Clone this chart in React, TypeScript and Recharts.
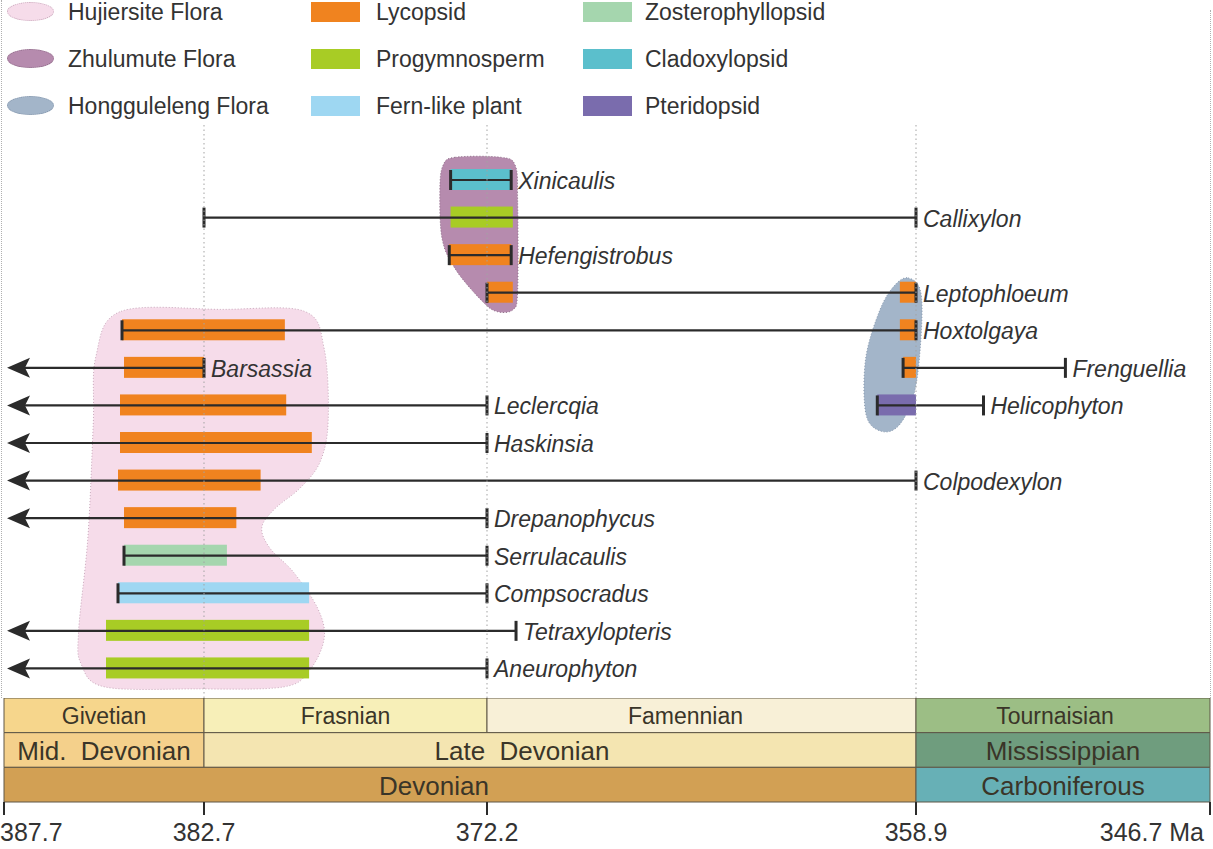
import React from "react";
import { Bar, ComposedChart, ReferenceArea, ReferenceLine, XAxis, YAxis } from "recharts";

const FONT = '"Liberation Sans", Arial, Helvetica, sans-serif';
const INK = "#2b2b2b";
const TEXT = "#333333";

// geologic time scale, Ma
const stageBounds = [387.7, 382.7, 372.2, 358.9, 346.7];
// the figure is not to scale: drawn width of each interval between the bounds
const intervalWidths = [200, 283, 429, 294];

const stages = [
  { name: "Givetian", from: 387.7, to: 382.7 },
  { name: "Frasnian", from: 382.7, to: 372.2 },
  { name: "Famennian", from: 372.2, to: 358.9 },
  { name: "Tournaisian", from: 358.9, to: 346.7 },
];
const epochs = [
  { name: "Mid.  Devonian", from: 387.7, to: 382.7 },
  { name: "Late  Devonian", from: 382.7, to: 358.9 },
  { name: "Mississippian", from: 358.9, to: 346.7 },
];
const periods = [
  { name: "Devonian", from: 387.7, to: 358.9 },
  { name: "Carboniferous", from: 358.9, to: 346.7 },
];

// one row per line of the figure (second taxon of a row shares it)
const rowNames = [
  "Xinicaulis",
  "Callixylon",
  "Hefengistrobus",
  "Leptophloeum",
  "Hoxtolgaya",
  "Barsassia",
  "Leclercqia",
  "Haskinsia",
  "Colpodexylon",
  "Drepanophycus",
  "Serrulacaulis",
  "Compsocradus",
  "Tetraxylopteris",
  "Aneurophyton",
];

// total stratigraphic range; openOlder = ranges further back than the axis
const taxa = [
  { name: "Xinicaulis", row: "Xinicaulis", group: "Cladoxylopsid", older: 373.55, younger: 371.45, openOlder: false },
  { name: "Callixylon", row: "Callixylon", group: "Progymnosperm", older: 382.7, younger: 358.9, openOlder: false },
  { name: "Hefengistrobus", row: "Hefengistrobus", group: "Lycopsid", older: 373.6, younger: 371.45, openOlder: false },
  { name: "Leptophloeum", row: "Leptophloeum", group: "Lycopsid", older: 372.2, younger: 358.9, openOlder: false },
  { name: "Hoxtolgaya", row: "Hoxtolgaya", group: "Lycopsid", older: 384.75, younger: 358.9, openOlder: false },
  { name: "Barsassia", row: "Barsassia", group: "Lycopsid", older: 387.7, younger: 382.7, openOlder: true },
  { name: "Frenguellia", row: "Barsassia", group: "Lycopsid", older: 359.3, younger: 352.7, openOlder: false },
  { name: "Leclercqia", row: "Leclercqia", group: "Lycopsid", older: 387.7, younger: 372.2, openOlder: true },
  { name: "Helicophyton", row: "Leclercqia", group: "Pteridopsid", older: 360.1, younger: 356.1, openOlder: false },
  { name: "Haskinsia", row: "Haskinsia", group: "Lycopsid", older: 387.7, younger: 372.2, openOlder: true },
  { name: "Colpodexylon", row: "Colpodexylon", group: "Lycopsid", older: 387.7, younger: 358.9, openOlder: true },
  { name: "Drepanophycus", row: "Drepanophycus", group: "Lycopsid", older: 387.7, younger: 372.2, openOlder: true },
  { name: "Serrulacaulis", row: "Serrulacaulis", group: "Zosterophyllopsid", older: 384.7, younger: 372.2, openOlder: false },
  { name: "Compsocradus", row: "Compsocradus", group: "Fern-like plant", older: 384.85, younger: 372.2, openOlder: false },
  { name: "Tetraxylopteris", row: "Tetraxylopteris", group: "Progymnosperm", older: 387.7, younger: 371.3, openOlder: true },
  { name: "Aneurophyton", row: "Aneurophyton", group: "Progymnosperm", older: 387.7, younger: 372.2, openOlder: true },
];

// occurrences in the Xinjiang floras
const occurrences = [
  { taxon: "Xinicaulis", flora: "Zhulumute", older: 373.55, younger: 371.45 },
  { taxon: "Callixylon", flora: "Zhulumute", older: 373.55, younger: 371.4 },
  { taxon: "Hefengistrobus", flora: "Zhulumute", older: 373.6, younger: 371.45 },
  { taxon: "Leptophloeum", flora: "Zhulumute", older: 372.2, younger: 371.4 },
  { taxon: "Leptophloeum", flora: "Hongguleleng", older: 359.4, younger: 358.9 },
  { taxon: "Hoxtolgaya", flora: "Hujiersite", older: 384.75, younger: 379.7 },
  { taxon: "Hoxtolgaya", flora: "Hongguleleng", older: 359.4, younger: 358.9 },
  { taxon: "Barsassia", flora: "Hujiersite", older: 384.7, younger: 382.7 },
  { taxon: "Frenguellia", flora: "Hongguleleng", older: 359.3, younger: 358.9 },
  { taxon: "Leclercqia", flora: "Hujiersite", older: 384.8, younger: 379.65 },
  { taxon: "Helicophyton", flora: "Hongguleleng", older: 360.1, younger: 358.9 },
  { taxon: "Haskinsia", flora: "Hujiersite", older: 384.8, younger: 378.7 },
  { taxon: "Colpodexylon", flora: "Hujiersite", older: 384.85, younger: 380.6 },
  { taxon: "Drepanophycus", flora: "Hujiersite", older: 384.7, younger: 381.5 },
  { taxon: "Serrulacaulis", flora: "Hujiersite", older: 384.7, younger: 381.85 },
  { taxon: "Compsocradus", flora: "Hujiersite", older: 384.85, younger: 378.8 },
  { taxon: "Tetraxylopteris", flora: "Hujiersite", older: 385.15, younger: 378.8 },
  { taxon: "Aneurophyton", flora: "Hujiersite", older: 385.15, younger: 378.8 },
];

const floras = [
  { name: "Hujiersite Flora", older: 385.9, younger: 377.6, top: "Hoxtolgaya", bottom: "Aneurophyton" },
  { name: "Zhulumute Flora", older: 373.95, younger: 371.25, top: "Xinicaulis", bottom: "Leptophloeum" },
  { name: "Hongguleleng Flora", older: 360.5, younger: 358.65, top: "Leptophloeum", bottom: "Leclercqia" },
];

const groupNames = ["Lycopsid", "Progymnosperm", "Fern-like plant", "Zosterophyllopsid", "Cladoxylopsid", "Pteridopsid"];

const groupColors: Record<string, string> = {
  Lycopsid: "#f0831f",
  Progymnosperm: "#a8cc25",
  "Fern-like plant": "#9ed7f2",
  Zosterophyllopsid: "#a5d6ae",
  Cladoxylopsid: "#5bbfcc",
  Pteridopsid: "#7a6cad",
};

const floraStyles: Record<string, { fill: string; stroke: string; outline: number[][] }> = {
  "Hujiersite Flora": {
    fill: "#f6dcea",
    stroke: "#c9a9bc",
    outline: [
      [0.17, 0.0], [0.55, -0.005], [0.86, 0.0], [0.935, 0.1], [0.95, 0.29], [0.92, 0.4],
      [0.845, 0.47], [0.75, 0.525], [0.7, 0.575], [0.73, 0.63], [0.82, 0.695], [0.91, 0.79],
      [0.935, 0.87], [0.88, 0.955], [0.78, 1.0], [0.45, 1.005], [0.11, 1.0], [0.02, 0.94],
      [0.01, 0.85], [0.045, 0.6], [0.065, 0.3], [0.075, 0.12],
    ],
  },
  "Zhulumute Flora": {
    fill: "#b68bae",
    stroke: "#8e6d88",
    outline: [
      [0.2, -0.025], [0.78, -0.025], [0.97, 0.03], [1.0, 0.26], [1.0, 0.86], [0.94, 0.99],
      [0.72, 1.0], [0.52, 0.92], [0.2, 0.72], [0.03, 0.52], [0.0, 0.2], [0.04, 0.03],
    ],
  },
  "Hongguleleng Flora": {
    fill: "#a3b5c9",
    stroke: "#8798ad",
    outline: [
      [0.76, 0.028], [0.97, 0.11], [0.99, 0.37], [0.88, 0.77], [0.62, 1.0], [0.31, 1.05],
      [0.03, 0.94], [0.02, 0.57], [0.27, 0.24], [0.53, 0.075],
    ],
  },
};

const unitColors: Record<string, string> = {
  Givetian: "#f6d68c",
  Frasnian: "#f7efb8",
  Famennian: "#f8f0d7",
  Tournaisian: "#9cbe85",
  "Mid.  Devonian": "#f4d08b",
  "Late  Devonian": "#f4e5b1",
  Mississippian: "#6f9d7e",
  Devonian: "#d2a054",
  Carboniferous: "#67b0b6",
};

// the figure sets a few unit names left of their box centre
const labelShift: Record<string, number> = {
  "Late  Devonian": -38,
  Devonian: -26,
  Famennian: -16,
  Tournaisian: -8,
};

const AXIS_MAX = intervalWidths.reduce((a, b) => a + b, 0);

// piecewise linear age -> axis position, following the figure's time scale
function toAxis(ma: number) {
  let acc = 0;
  for (let i = 0; i < intervalWidths.length; i++) {
    const a = stageBounds[i];
    const b = stageBounds[i + 1];
    if (ma >= b || i === intervalWidths.length - 1) {
      return acc + ((a - ma) / (a - b)) * intervalWidths[i];
    }
    acc += intervalWidths[i];
  }
  return acc;
}

const tableRows = rowNames.map((row) => {
  const here = taxa.filter((t) => t.row === row);
  const occ = occurrences.filter((o) => here.some((t) => t.name === o.taxon));
  const entry: any = { row };
  here.forEach((t, i) => {
    entry[`range${i + 1}`] = [toAxis(t.older), toAxis(t.younger)];
    entry[`name${i + 1}`] = t.name;
    entry[`open${i + 1}`] = t.openOlder;
  });
  occ.forEach((o, i) => {
    const t = taxa.find((tt) => tt.name === o.taxon)!;
    entry[`local${i + 1}`] = [toAxis(o.older), toAxis(o.younger)];
    entry[`color${i + 1}`] = groupColors[t.group];
  });
  return entry;
});

function smoothPath(pts: number[][]) {
  const n = pts.length;
  let d = `M${pts[0][0]},${pts[0][1]}`;
  for (let i = 0; i < n; i++) {
    const p0 = pts[(i - 1 + n) % n];
    const p1 = pts[i];
    const p2 = pts[(i + 1) % n];
    const p3 = pts[(i + 2) % n];
    const c1 = [p1[0] + (p2[0] - p0[0]) / 6, p1[1] + (p2[1] - p0[1]) / 6];
    const c2 = [p2[0] - (p3[0] - p1[0]) / 6, p2[1] - (p3[1] - p1[1]) / 6];
    d += ` C${c1[0]},${c1[1]} ${c2[0]},${c2[1]} ${p2[0]},${p2[1]}`;
  }
  return d + "Z";
}

const blobShape = (flora: string) => (props: any) => {
  const { x, y, width, height } = props;
  const st = floraStyles[flora];
  const pts = st.outline.map(([u, v]) => [x + u * width, y + v * height]);
  return <path d={smoothPath(pts)} fill={st.fill} stroke={st.stroke} strokeWidth={1} strokeDasharray="1 2" />;
};

const rangeShape = (slot: number) => (props: any) => {
  const { x, y, width, height, payload } = props;
  const name = payload && payload[`name${slot}`];
  if (!name || !Number.isFinite(x) || !Number.isFinite(width)) return <g />;
  const open = payload[`open${slot}`];
  const cy = y + height / 2;
  const x2 = x + width;
  return (
    <g>
      <line x1={open ? x + 10 : x} y1={cy} x2={x2} y2={cy} stroke={INK} strokeWidth={2.2} />
      {open ? (
        <path d={`M${x + 3},${cy} L${x + 26},${cy - 10} L${x + 21},${cy} L${x + 26},${cy + 10} Z`} fill={INK} />
      ) : (
        <line x1={x} y1={cy - 10} x2={x} y2={cy + 10} stroke={INK} strokeWidth={3} />
      )}
      <line x1={x2} y1={cy - 10} x2={x2} y2={cy + 10} stroke={INK} strokeWidth={3} />
      <text x={x2 + 7} y={cy + 1} dominantBaseline="central" fontStyle="italic" fontSize={23} fill={TEXT}>
        {name}
      </text>
    </g>
  );
};

const localShape = (slot: number) => (props: any) => {
  const { x, y, width, height, payload } = props;
  const color = payload && payload[`color${slot}`];
  if (!color || !Number.isFinite(x) || !Number.isFinite(width)) return <g />;
  return <rect x={x} y={y} width={width} height={height} fill={color} />;
};

const unitLabel = (name: string, size: number) => (props: any) => {
  const vb = props.viewBox || {};
  if (!Number.isFinite(vb.x)) return null;
  const cx = vb.x + vb.width / 2 + (labelShift[name] || 0);
  const cy = vb.y + vb.height / 2;
  return (
    <text
      x={cx}
      y={cy + 1}
      textAnchor="middle"
      dominantBaseline="central"
      fontSize={size}
      fill="#3a3528"
      style={{ whiteSpace: "pre" }}
    >
      {name}
    </text>
  );
};

const tickValues = stageBounds.map(toAxis);

const AgeTick = (props: any) => {
  const { x, y, payload } = props;
  const i = tickValues.findIndex((t) => Math.abs(t - payload.value) < 1e-6);
  const last = i === stageBounds.length - 1;
  const anchor = i === 0 ? "start" : last ? "end" : "middle";
  const tx = i === 0 ? x - 4 : last ? x - 6 : x;
  return (
    <text x={tx} y={y + 24} textAnchor={anchor} fontSize={25} fill={TEXT}>
      {stageBounds[i] + (last ? " Ma" : "")}
    </text>
  );
};

const rowAxisProps = {
  type: "category" as const,
  dataKey: "row",
  hide: true,
  padding: { top: 36, bottom: 11 },
};

const legendRows = [12, 59, 106];

export default function App() {
  const scaleUnits = [
    ...stages.map((u) => ({ ...u, lo: 2, hi: 3, size: 23 })),
    ...epochs.map((u) => ({ ...u, lo: 1, hi: 2, size: 26 })),
    ...periods.map((u) => ({ ...u, lo: 0, hi: 1, size: 26 })),
  ];
  return (
    <div
      style={{
        position: "absolute",
        left: 0,
        top: 0,
        width: 1213,
        height: 849,
        background: "#fff",
        fontFamily: FONT,
        color: TEXT,
        overflow: "hidden",
      }}
    >
      {/* dotted frame edges */}
      <div style={{ position: "absolute", left: 1, top: 0, height: 698, borderLeft: "1px dotted #b0b0b0" }} />
      <div style={{ position: "absolute", left: 1210, top: 10, height: 688, borderLeft: "1px dotted #b0b0b0" }} />

      {/* legend */}
      {floras.map((f, i) => (
        <React.Fragment key={f.name}>
          <div
            style={{
              position: "absolute",
              left: 7,
              top: legendRows[i] - 10,
              width: 47,
              height: 19,
              borderRadius: "50%",
              background: floraStyles[f.name].fill,
              border: `1px dotted ${floraStyles[f.name].stroke}`,
              boxSizing: "border-box",
            }}
          />
          <div style={{ position: "absolute", left: 68, top: legendRows[i] - 13, fontSize: 23, lineHeight: "26px" }}>{f.name}</div>
        </React.Fragment>
      ))}
      {groupNames.map((g, i) => {
        const col = Math.floor(i / 3);
        const r = i % 3;
        const sx = col === 0 ? 311 : 583;
        const tx = col === 0 ? 376 : 645;
        return (
          <React.Fragment key={g}>
            <div
              style={{ position: "absolute", left: sx, top: legendRows[r] - 10, width: 49, height: 20, background: groupColors[g] }}
            />
            <div style={{ position: "absolute", left: tx, top: legendRows[r] - 13, fontSize: 23, lineHeight: "26px" }}>{g}</div>
          </React.Fragment>
        );
      })}

      {/* ranges */}
      <div style={{ position: "absolute", left: 0, top: 0 }}>
        <ComposedChart
          width={1213}
          height={698}
          data={tableRows}
          layout="vertical"
          margin={{ top: 125, right: 3, bottom: 0, left: 4 }}
        >
          <XAxis type="number" domain={[0, AXIS_MAX]} hide allowDataOverflow />
          <YAxis yAxisId="l1" {...rowAxisProps} />
          <YAxis yAxisId="l2" {...rowAxisProps} />
          <YAxis yAxisId="r1" {...rowAxisProps} />
          <YAxis yAxisId="r2" {...rowAxisProps} />
          {floras.map((f) => (
            <ReferenceArea
              key={f.name}
              yAxisId="l1"
              x1={toAxis(f.older)}
              x2={toAxis(f.younger)}
              y1={f.top}
              y2={f.bottom}
              shape={blobShape(f.name)}
              ifOverflow="visible"
            />
          ))}
          <Bar yAxisId="l1" dataKey="local1" barSize={21} shape={localShape(1)} isAnimationActive={false} />
          <Bar yAxisId="l2" dataKey="local2" barSize={21} shape={localShape(2)} isAnimationActive={false} />
          {stageBounds.slice(1, -1).map((b) => (
            <ReferenceLine key={b} yAxisId="l1" x={toAxis(b)} stroke="#a3a3a3" strokeDasharray="1.5 3" />
          ))}
          <Bar yAxisId="r1" dataKey="range1" barSize={22} shape={rangeShape(1)} isAnimationActive={false} />
          <Bar yAxisId="r2" dataKey="range2" barSize={22} shape={rangeShape(2)} isAnimationActive={false} />
        </ComposedChart>
      </div>

      {/* time scale */}
      <div style={{ position: "absolute", left: 0, top: 698 }}>
        <ComposedChart width={1213} height={151} margin={{ top: 0, right: 3, bottom: 0, left: 4 }}>
          <XAxis
            type="number"
            dataKey="t"
            domain={[0, AXIS_MAX]}
            ticks={tickValues}
            interval={0}
            height={47}
            tick={<AgeTick />}
            tickSize={13}
            tickLine={{ stroke: INK, strokeWidth: 2 }}
            axisLine={false}
            allowDataOverflow
          />
          <YAxis type="number" domain={[0, 3]} hide allowDataOverflow />
          {scaleUnits.map((u) => (
            <ReferenceArea
              key={u.name}
              x1={toAxis(u.from)}
              x2={toAxis(u.to)}
              y1={u.lo}
              y2={u.hi}
              fill={unitColors[u.name]}
              fillOpacity={1}
              stroke="#5e5746"
              strokeWidth={1}
              ifOverflow="visible"
              label={{ content: unitLabel(u.name, u.size) } as any}
            />
          ))}
        </ComposedChart>
      </div>
    </div>
  );
}
